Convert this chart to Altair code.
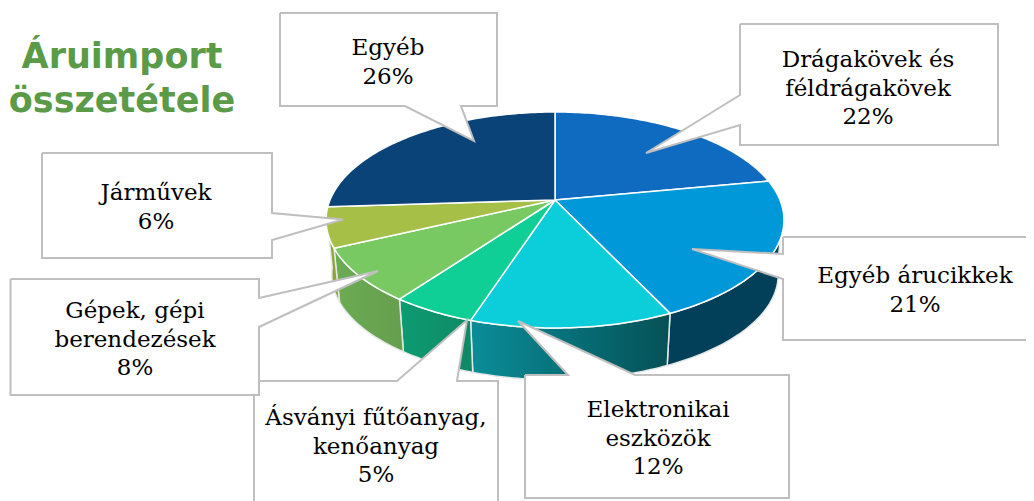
import math
import altair as alt
import pandas as pd

# ---- data
categories = ["Drágakövek és\nféldrágakövek", "Egyéb árucikkek", "Elektronikai\neszközök",
              "Ásványi fűtőanyag,\nkenőanyag", "Gépek, gépi\nberendezések", "Járművek", "Egyéb"]
shares = [22, 21, 12, 5, 8, 6, 26]
top_colors = ["#0F6BC0", "#0098D8", "#0CCDDA", "#10CF96", "#79C962", "#A5BF47", "#0A4378"]
wall_left = ["#0F6BC0", "#023F58", "#0A8D98", "#0D9C72", "#6CAC52", "#8EA336", "#0A4378"]
wall_right = ["#0F6BC0", "#023F58", "#055156", "#0F8866", "#669E4E", "#8EA336", "#0A4378"]

# ---- label anchors: centre x, first baseline y
label_x = [868, 915, 658, 376, 135, 156, 388]
label_y = [67, 283, 417, 425, 318, 200, 55]

# ---- callout outlines
callouts = {
    "Ásványi": ([254, 397, 467, 457, 498, 498, 254], [381, 381, 320, 381, 381, 510, 510]),
    "Elektronikai": ([525, 568, 518, 635, 789, 789, 525], [375, 375, 321, 375, 375, 498, 498]),
    "Árucikkek": ([783, 1040, 1040, 783, 783, 692, 783], [237, 237, 340, 340, 279, 249, 254]),
    "Drágakövek": ([740, 998, 998, 740, 740, 646, 740], [24, 24, 145, 145, 125, 153, 95]),
    "Egyéb": ([280, 497, 497, 461, 474, 405, 280], [13, 13, 106, 106, 141, 106, 106]),
    "Járművek": ([42, 272, 272, 343, 272, 272, 42], [153, 153, 213, 219.5, 240, 258, 258]),
    "Gépek": ([10.5, 259, 259, 378, 259, 259, 10.5], [279, 279, 298, 271, 327, 395, 395]),
}

# ---- pie projection
CX, CY, A, B, K = 555, 200, 225, 104.3, 0.185
WALL_SCALE, WALL_DROP = 0.975, 55


def rim(theta_deg, bottom=False):
    t = math.radians(theta_deg)
    w = 1 + K * math.cos(t)
    x, y = A * math.sin(t) / w, B * math.cos(t) / w
    if bottom:
        return CX + WALL_SCALE * x, CY + WALL_DROP - WALL_SCALE * y
    return CX + x, CY - y


def sweep(a, b):
    n = max(2, int(abs(b - a)) + 1)
    return [a + (b - a) * i / (n - 1) for i in range(n)]


def frame(points):
    return pd.DataFrame({"px": [p[0] for p in points], "py": [p[1] for p in points],
                         "i": range(len(points))})


X = alt.X("px:Q", scale=alt.Scale(domain=[8, 1026], nice=False, zero=False), axis=None)
Y = alt.Y("py:Q", scale=alt.Scale(domain=[501, 8], nice=False, zero=False), axis=None)


def poly(points, **mark):
    return alt.Chart(frame(points)).mark_line(clip=True, **mark).encode(x=X, y=Y, order=alt.Order("i:Q"))


layers = []
edges = [0]
for s in shares:
    edges.append(edges[-1] + s * 3.6)

# side walls (front-facing part only)
for i in range(len(shares)):
    a, b = max(edges[i], 96), min(edges[i + 1], 263)
    if a >= b:
        continue
    thetas = sweep(a, b)
    pts = [rim(t) for t in thetas] + [rim(t, True) for t in reversed(thetas)]
    pts.append(pts[0])
    grad = alt.Gradient(gradient="linear", x1=0, x2=1, y1=0, y2=0,
                        stops=[alt.GradientStop(color=wall_left[i], offset=0),
                               alt.GradientStop(color=wall_right[i], offset=1)])
    layers.append(poly(pts, fill=grad, stroke="#E4E8E8", strokeWidth=1.5))

# top face
for i in range(len(shares)):
    pts = [(CX, CY)] + [rim(t) for t in sweep(edges[i], edges[i + 1])] + [(CX, CY)]
    layers.append(poly(pts, fill=top_colors[i], stroke="#FFFFFF", strokeWidth=1.5, strokeJoin="round"))

# callouts
for name, (xs, ys) in callouts.items():
    pts = list(zip(xs, ys)) + [(xs[0], ys[0])]
    layers.append(poly(pts, fill="#FFFFFF", stroke="#BFBFBF", strokeWidth=2, strokeJoin="miter"))

# labels
labels = pd.DataFrame({
    "px": label_x, "py": label_y,
    "txt": [f"{c}\n{s}%" for c, s in zip(categories, shares)],
})
layers.append(alt.Chart(labels).mark_text(
    font="DejaVu Serif", fontSize=23, color="#000000", align="center", baseline="alphabetic",
    lineBreak="\n", lineHeight=28.5,
).encode(x=X, y=Y, text="txt:N"))

# title
title_df = pd.DataFrame({"px": [122], "py": [68], "txt": ["Áruimport\nösszetétele"]})
layers.append(alt.Chart(title_df).mark_text(
    font="DejaVu Sans", fontSize=35, fontWeight="bold", color="#5B9A47", align="center",
    baseline="alphabetic", lineBreak="\n", lineHeight=44,
).encode(x=X, y=Y, text="txt:N"))

chart = alt.layer(*layers).properties(width=1018, height=493, padding=0,
                                      autosize=alt.AutoSizeParams(type="none"),
                                      background="#FFFFFF").configure_view(stroke=None)
chart.save("out.html", embed_options={"renderer": "svg", "actions": False})
